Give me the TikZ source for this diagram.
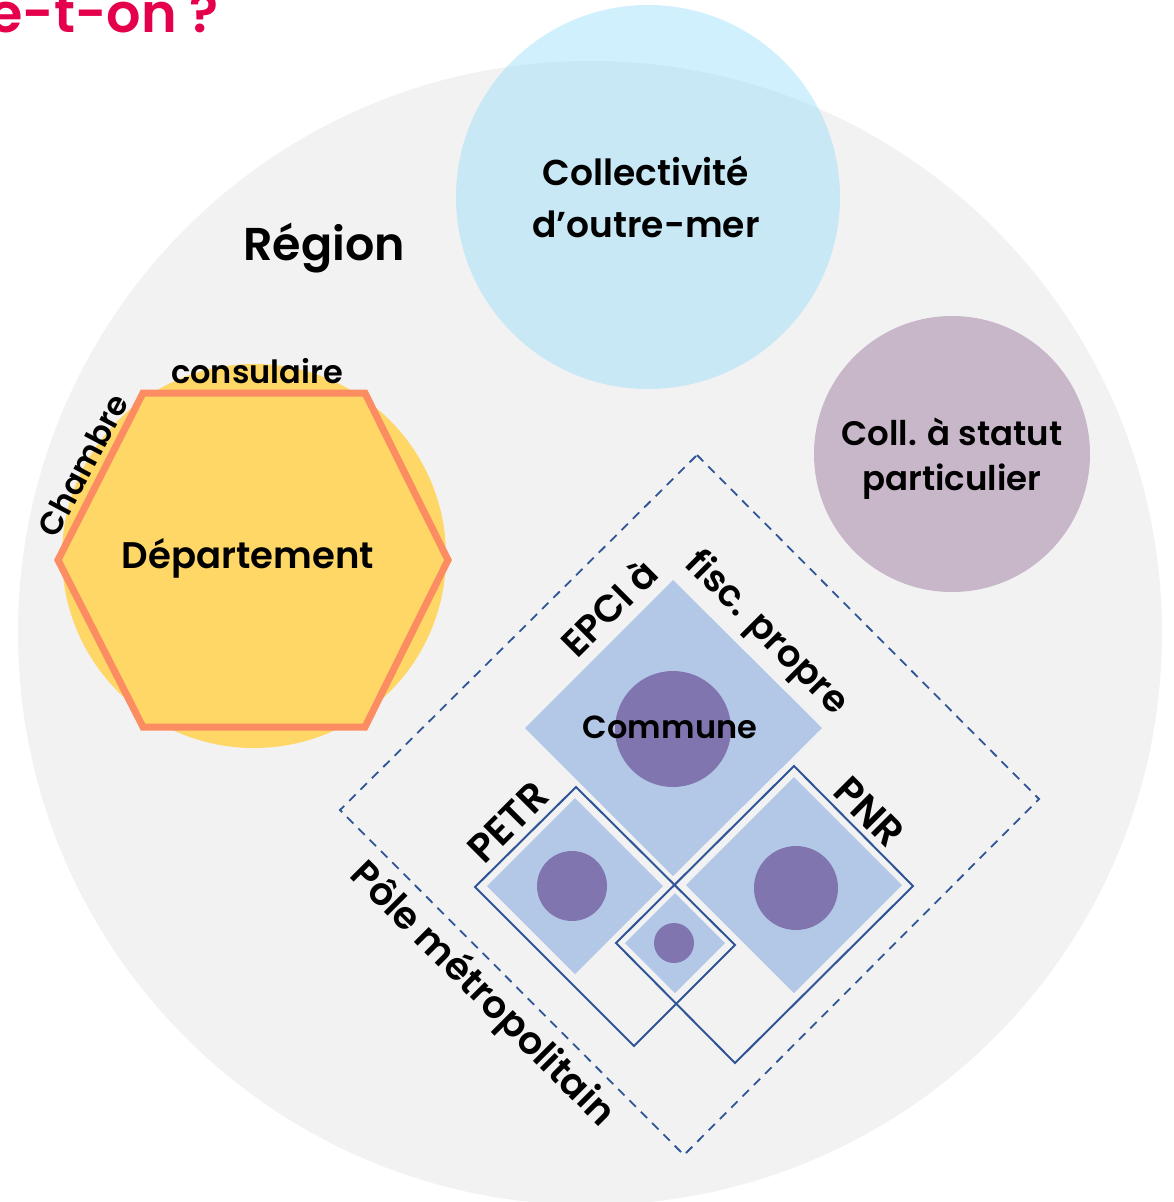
\documentclass[tikz,border=0pt]{standalone}
\usepackage{fontspec}
\setmainfont{Poppins}[BoldFont={Poppins SemiBold}]
\definecolor{greybg}{HTML}{F2F2F2}
\definecolor{skyb}{RGB}{137,217,250}
\definecolor{mauve}{HTML}{C8B6C9}
\definecolor{yell}{HTML}{FED766}
\definecolor{orng}{HTML}{FC8C62}
\definecolor{lblue}{HTML}{B3C7E7}
\definecolor{purp}{HTML}{8175AF}
\definecolor{dblue}{HTML}{2F5597}
\definecolor{crim}{HTML}{E4004B}
\tikzset{
  lbl/.style={inner sep=0pt, text=black, font=\bfseries\fontsize{#1}{#1}\selectfont},
  outl/.style={draw=dblue, line width=2pt, line join=miter},
  dashbox/.style={draw=dblue, line width=1.8pt, dash pattern=on 9pt off 7pt}
}
\begin{document}
\begin{tikzpicture}[x=1pt,y=-1pt]
\useasboundingbox (0,0) rectangle (1173,1202);
\clip (0,0) rectangle (1173,1202);
% Region
\fill[greybg] (590,633) circle (572);
% Collectivite d'outre-mer
\fill[skyb, fill opacity=0.4] (648,197) circle (192);
% Coll. a statut particulier
\fill[mauve] (952,454) circle (138);
% Departement
\fill[yell] (254,556) circle (192);
\filldraw[fill=yell, draw=orng, line width=7pt, line join=miter]
  (58,560) -- (143,393) -- (365,393) -- (448,560) -- (365,727) -- (143,727) -- cycle;
% Pole metropolitain
\draw[dashbox] (697,455) -- (1039,799) -- (684,1155) -- (340,810) -- cycle;
% EPCI
\fill[lblue] (673,580) -- (822,728) -- (673,876) -- (525,728) -- cycle;
\fill[purp] (673,729) circle (58);
% PETR
\fill[lblue] (575,798) -- (663,886) -- (575,974) -- (487,886) -- cycle;
\fill[purp] (572,886) circle (35);
% PNR
\fill[lblue] (794,777) -- (902,885) -- (794,993) -- (686,885) -- cycle;
\fill[purp] (796,888) circle (42);
% intersection
\fill[lblue] (675,893) -- (725,943) -- (675,993) -- (625,943) -- cycle;
\fill[purp] (674,943) circle (20);
% outlines
\draw[outl] (576,787) -- (735,945) -- (634,1046) -- (475,887) -- cycle;
\draw[outl] (794,766) -- (913,886) -- (735,1063) -- (616,943) -- cycle;
% texts
\node[anchor=base east, inner sep=0pt, text=crim, font=\bfseries\fontsize{54}{54}\selectfont] (title) at (219,32) {e-t-on ?};
\node[lbl=46, anchor=base] (region) at (324,260) {Région};
\node[lbl=36, anchor=base] (com1) at (646,185) {Collectivité};
\node[lbl=36, anchor=base] (com2) at (646,237) {d’outre-mer};
\node[lbl=34, anchor=base] (csp1) at (952,445) {Coll. à statut};
\node[lbl=34, anchor=base] (csp2) at (952,490) {particulier};
\node[lbl=37, anchor=base] (dep) at (248,568) {Département};
\node[lbl=32, anchor=base] (consul) at (257,383) {consulaire};
\node[lbl=32, rotate=62] (chambre) at (83,465) {Chambre};
\node[lbl=32, anchor=base] (commune) at (670,738) {Commune};
\node[lbl=38, rotate=45] (epci) at (608,607) {EPCI à};
\node[lbl=37, rotate=-45] (fisc) at (766,634) {fisc. propre};
\node[lbl=40, rotate=45] (petr) at (508,822) {PETR};
\node[lbl=40, rotate=-45] (pnr) at (869,812) {PNR};
\node[lbl=38, rotate=-45] (pole) at (482,995) {Pôle métropolitain};
\end{tikzpicture}
\end{document}
